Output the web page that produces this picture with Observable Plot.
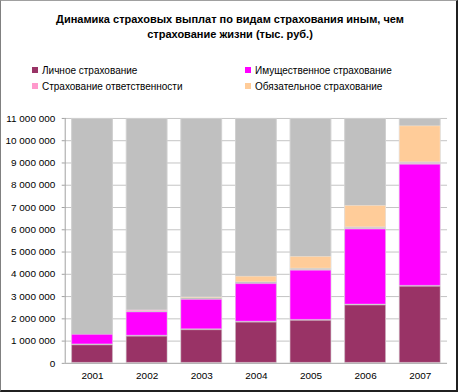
<!DOCTYPE html>
<html>
<head>
<meta charset="utf-8">
<script src="https://cdn.jsdelivr.net/npm/d3@7"></script>
<script src="https://cdn.jsdelivr.net/npm/@observablehq/plot@0.6"></script>
<style>
  html, body { margin: 0; padding: 0; background: #fff; }
  #frame {
    position: relative; width: 458px; height: 392px; box-sizing: border-box;
    border-left: 1px solid #808080; border-top: 1px solid #a0a0a0;
    border-right: 2px solid #202020; border-bottom: 2px solid #202020;
    font-family: "Liberation Sans", Arial, sans-serif; overflow: hidden;
  }
  #title {
    position: absolute; left: 0; width: 458px; top: 11px; text-align: center;
    font-weight: bold; font-size: 11px; line-height: 15px; color: #000;
  }
  .leg { position: absolute; font-size: 10px; color: #000; white-space: nowrap; line-height: 12px; }
  .leg span.sw { display: inline-block; width: 6px; height: 6px; margin-right: 4px; vertical-align: 1px; }
  #chart { position: absolute; left: -1px; top: 104px; }
</style>
</head>
<body>
<div id="frame">
  <div id="title">Динамика страховых выплат по видам страхования иным, чем<br>страхование жизни (тыс. руб.)</div>
  <div id="legend"></div>
  <div id="chart"></div>
</div>
<script>
const years = ["2001", "2002", "2003", "2004", "2005", "2006", "2007"];
const seriesNames = ["Личное страхование", "Имущественное страхование", "Страхование ответственности", "Обязательное страхование"];
const personal  = [830000, 1220000, 1510000, 1850000, 1930000, 2620000, 3460000];
const property  = [470000, 1090000, 1360000, 1730000, 2250000, 3410000, 5480000];
const liability = [30000, 90000, 40000, 40000, 50000, 60000, 70000];
const mandatory = [40000, 20000, 70000, 290000, 570000, 1000000, 1660000];
const colors = ["#993366", "#FF00FF", "#FF99CC", "#FFCC99"];
const yTicks = [0, 1000000, 2000000, 3000000, 4000000, 5000000, 6000000, 7000000, 8000000, 9000000, 10000000, 11000000];
const yMax = 11000000;

const seriesValues = [personal, property, liability, mandatory];
const rows = [];
seriesNames.forEach((s, i) => years.forEach((y, j) => rows.push({year: y, series: s, value: seriesValues[i][j]})));

// legend
const legend = document.getElementById("legend");
const legPos = [[31, 64], [244, 64], [31, 80], [244, 80]];
seriesNames.forEach((s, i) => {
  const d = document.createElement("div");
  d.className = "leg";
  d.style.left = legPos[i][0] + "px";
  d.style.top = legPos[i][1] + "px";
  d.innerHTML = `<span class="sw" style="background:${colors[i]}"></span>${s}`;
  legend.appendChild(d);
});

const fmt = d => d3.format(",")(d).replace(/,/g, " ");

const chart = Plot.plot({
  width: 458,
  height: 286,
  marginTop: 13,
  marginBottom: 27,
  marginLeft: 65,
  marginRight: 9,
  style: {fontFamily: "Liberation Sans, Arial, sans-serif", fontSize: "10px", color: "#000", background: "transparent"},
  x: {domain: years, paddingInner: 0.235, paddingOuter: 0.1175, round: false, label: null},
  y: {domain: [0, yMax], ticks: yTicks, label: null},
  color: {domain: seriesNames, range: colors},
  marks: [
    Plot.ruleY(yTicks, {stroke: "#c4c4c4"}),
    Plot.barY(years, {x: d => d, y1: 0, y2: yMax, fill: "#c0c0c0", stroke: "#d0d0d0", strokeWidth: 1, inset: 0.5}),
    Plot.barY(rows, Plot.stackY({order: seriesNames, x: "year", y: "value", fill: "series", stroke: "#ffffff", strokeOpacity: 0.3, strokeWidth: 1, inset: 0.5})),
    Plot.ruleY([0], {stroke: "#b0b0b0"}),
    Plot.axisY({ticks: yTicks, tickFormat: fmt, tickSize: 3, tickPadding: 7, stroke: "#a0a0a0", fill: "#000", fontSize: 10}),
    Plot.axisX({tickSize: 0, tickPadding: 9, fontSize: 10, fill: "#000"})
  ]
});
document.getElementById("chart").appendChild(chart);
// vertical axis line
d3.select(chart).append("line").attr("x1", 65.5).attr("x2", 65.5).attr("y1", 13).attr("y2", 259).attr("stroke", "#a0a0a0");
</script>
</body>
</html>
